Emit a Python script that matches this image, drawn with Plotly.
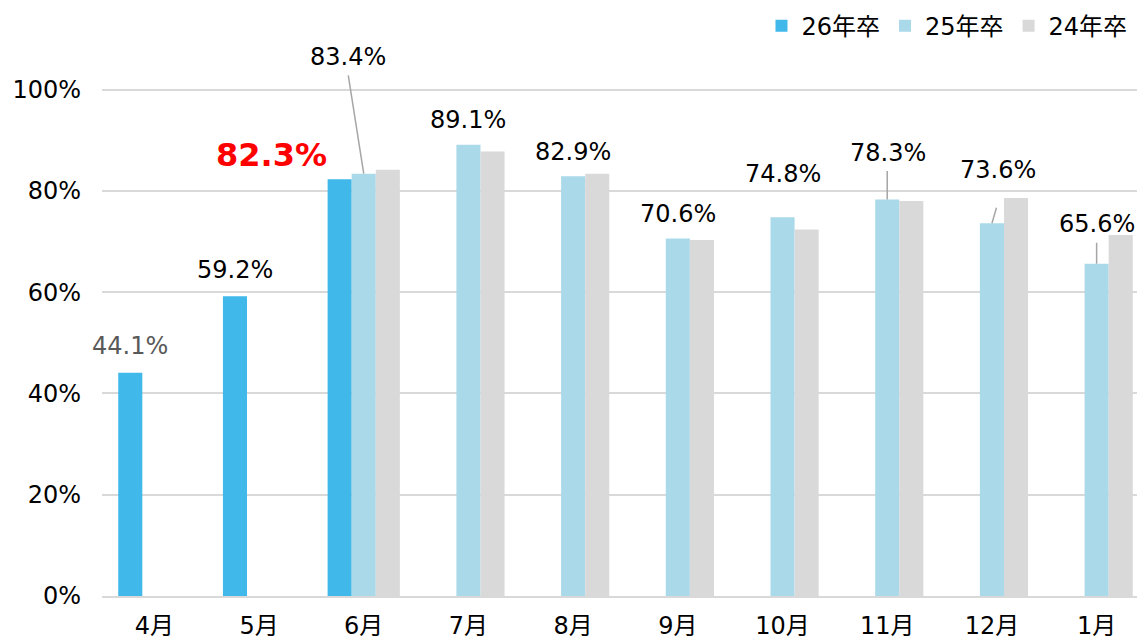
import plotly.graph_objects as go

months = ["4月", "5月", "6月", "7月", "8月", "9月", "10月", "11月", "12月", "1月"]
y26 = [0.441, 0.592, 0.823, None, None, None, None, None, None, None]
y25 = [None, None, 0.834, 0.891, 0.829, 0.706, 0.748, 0.783, 0.736, 0.656]
y24 = [None, None, 0.842, 0.878, 0.834, 0.703, 0.724, 0.780, 0.786, 0.713]
series_names = ["26年卒", "25年卒", "24年卒"]
colors = ["#41B8EA", "#AAD9EA", "#D9D9D9"]
yticks = [0, 0.2, 0.4, 0.6, 0.8, 1.0]
ytick_text = ["0%", "20%", "40%", "60%", "80%", "100%"]

# page body has an 8px margin: figure is drawn offset by (8, 8)
W, H = 1137, 633
ML, MR, MT, MB = 94, 0, 31, 45
BARGAP = 0.31
XR = [-0.5, 9.462]
cat_px = (W - ML - MR) / (XR[1] - XR[0])
bw = cat_px * (1 - BARGAP) / 3
shift = {"26": -bw, "25": 0.0, "24": bw}

FONT = "DejaVu Sans, Noto Sans CJK JP, sans-serif"

fig = go.Figure()
for name, vals, col in zip(series_names, [y26, y25, y24], colors):
    fig.add_trace(go.Bar(x=months, y=vals, name=name, marker=dict(color=col, line=dict(width=0))))

ann = []
def fmt(v):
    return f"{v*100:.1f}%"

# label offsets (dx, dy px relative to bar top), optional leader (lx, ly)
lab25 = {
    "6月": (-15.5, 116.7, (-15.7, 99.7)),
    "7月": (0, 25, None),
    "8月": (0, 24.7, None),
    "9月": (0, 25, None),
    "10月": (0, 43.3, None),
    "11月": (0.8, 46.8, (0, 30)),
    "12月": (5.7, 53.8, (5.0, 17)),
    "1月": (0, 40, (0, 22.7)),
}
for m, v in zip(months, y25):
    if v is None:
        continue
    dx, dy, lead = lab25[m]
    if lead is not None:
        ann.append(dict(x=m, y=v, xshift=shift["25"], text="", showarrow=True, arrowhead=0,
                        arrowwidth=1.5, arrowcolor="#A6A6A6", ax=lead[0], ay=-lead[1],
                        standoff=0, startstandoff=0))
    ann.append(dict(x=m, y=v, xshift=shift["25"] + dx, yshift=dy, text=fmt(v), showarrow=False,
                    xanchor="center", yanchor="middle", font=dict(size=24, color="#000000", family=FONT)))

lab26 = {
    "4月": (0, 27, "#595959", 24, False),
    "5月": (0, 26.5, "#000000", 24, False),
    "6月": (-68.3, 24.5, "#FF0000", 32, True),
}
for m, v in zip(months, y26):
    if v is None:
        continue
    dx, dy, c, s, b = lab26[m]
    t = fmt(v)
    if b:
        t = "<b>" + t + "</b>"
    ann.append(dict(x=m, y=v, xshift=shift["26"] + dx, yshift=dy, text=t, showarrow=False,
                    xanchor="center", yanchor="middle", font=dict(size=s, color=c, family=FONT)))

fig.update_layout(
    width=W, height=H,
    margin=dict(l=ML, r=MR, t=MT, b=MB, pad=0, autoexpand=False),
    paper_bgcolor="white", plot_bgcolor="white",
    barmode="group", bargap=BARGAP, bargroupgap=0,
    font=dict(family=FONT, size=24, color="#000000"),
    annotations=ann,
    legend=dict(orientation="h", x=0.988, xanchor="right", y=1.023, yanchor="middle",
                font=dict(size=24, family=FONT, color="#000000"), traceorder="normal",
                itemwidth=30, bgcolor="rgba(0,0,0,0)"),
    xaxis=dict(type="category", range=XR, showgrid=False, showline=True, linecolor="#D9D9D9",
               linewidth=2, ticks="", tickfont=dict(size=24, family=FONT, color="#000000"),
               ticklabelstandoff=7, automargin=False),
    yaxis=dict(range=[0, 1.1], tickvals=yticks, ticktext=ytick_text, showgrid=True,
               gridcolor="#D9D9D9", gridwidth=2, zeroline=False, showline=False, ticks="",
               tickfont=dict(size=24, family=FONT, color="#000000"), ticklabelstandoff=20,
               automargin=False),
)

fig.write_html("out.html")
